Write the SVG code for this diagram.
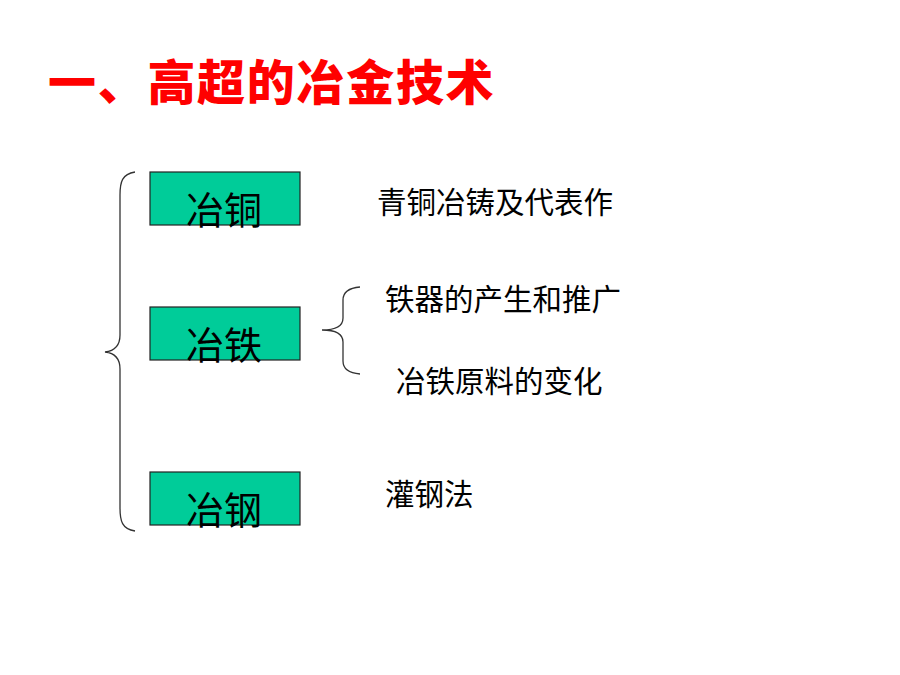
<svg xmlns="http://www.w3.org/2000/svg" width="900" height="675" viewBox="0 0 900 675">
<style>
.t{font-family:"Liberation Sans","Noto Sans CJK SC",sans-serif;fill:#000}
.box{fill:#00CC99;stroke:#222;stroke-width:1.2}
.br{fill:none;stroke:#333;stroke-width:1.3}
</style>
<rect width="900" height="675" fill="#fff"/>
<text x="48" y="100" font-family="'Noto Sans CJK SC',sans-serif" font-weight="900" font-size="48" fill="#FF0000" letter-spacing="1.7">一、高超的冶金技术</text>
<g id="connectors">
<path class="br" d="M135,172 C122,174 120,182 120,195 L120,335 C120,346 114,351 105,352 C114,353 120,358 120,369 L120,508 C120,521 122,529 135,531"/>
<path class="br" d="M360,287 C348,288 343,292 343,300 L343,318 C343,326 336,330 322,330 C336,330 343,334 343,342 L343,361 C343,369 348,373 360,374"/>
</g>
<g id="n1"><rect class="box" x="150" y="172" width="150" height="53"/><text class="t" x="186" y="224" font-size="38">冶铜</text></g>
<g id="n2"><rect class="box" x="150" y="307" width="150" height="53"/><text class="t" x="186" y="359" font-size="38">冶铁</text></g>
<g id="n3"><rect class="box" x="150" y="472" width="150" height="53"/><text class="t" x="186" y="524" font-size="38">冶钢</text></g>
<g id="l1"><text class="t" x="377" y="213" font-size="29.5">青铜冶铸及代表作</text></g>
<g id="l2"><text class="t" x="385" y="310" font-size="29.5">铁器的产生和推广</text></g>
<g id="l3"><text class="t" x="396" y="392" font-size="29.5">冶铁原料的变化</text></g>
<g id="l4"><text class="t" x="385" y="505" font-size="29.5">灌钢法</text></g>
</svg>
